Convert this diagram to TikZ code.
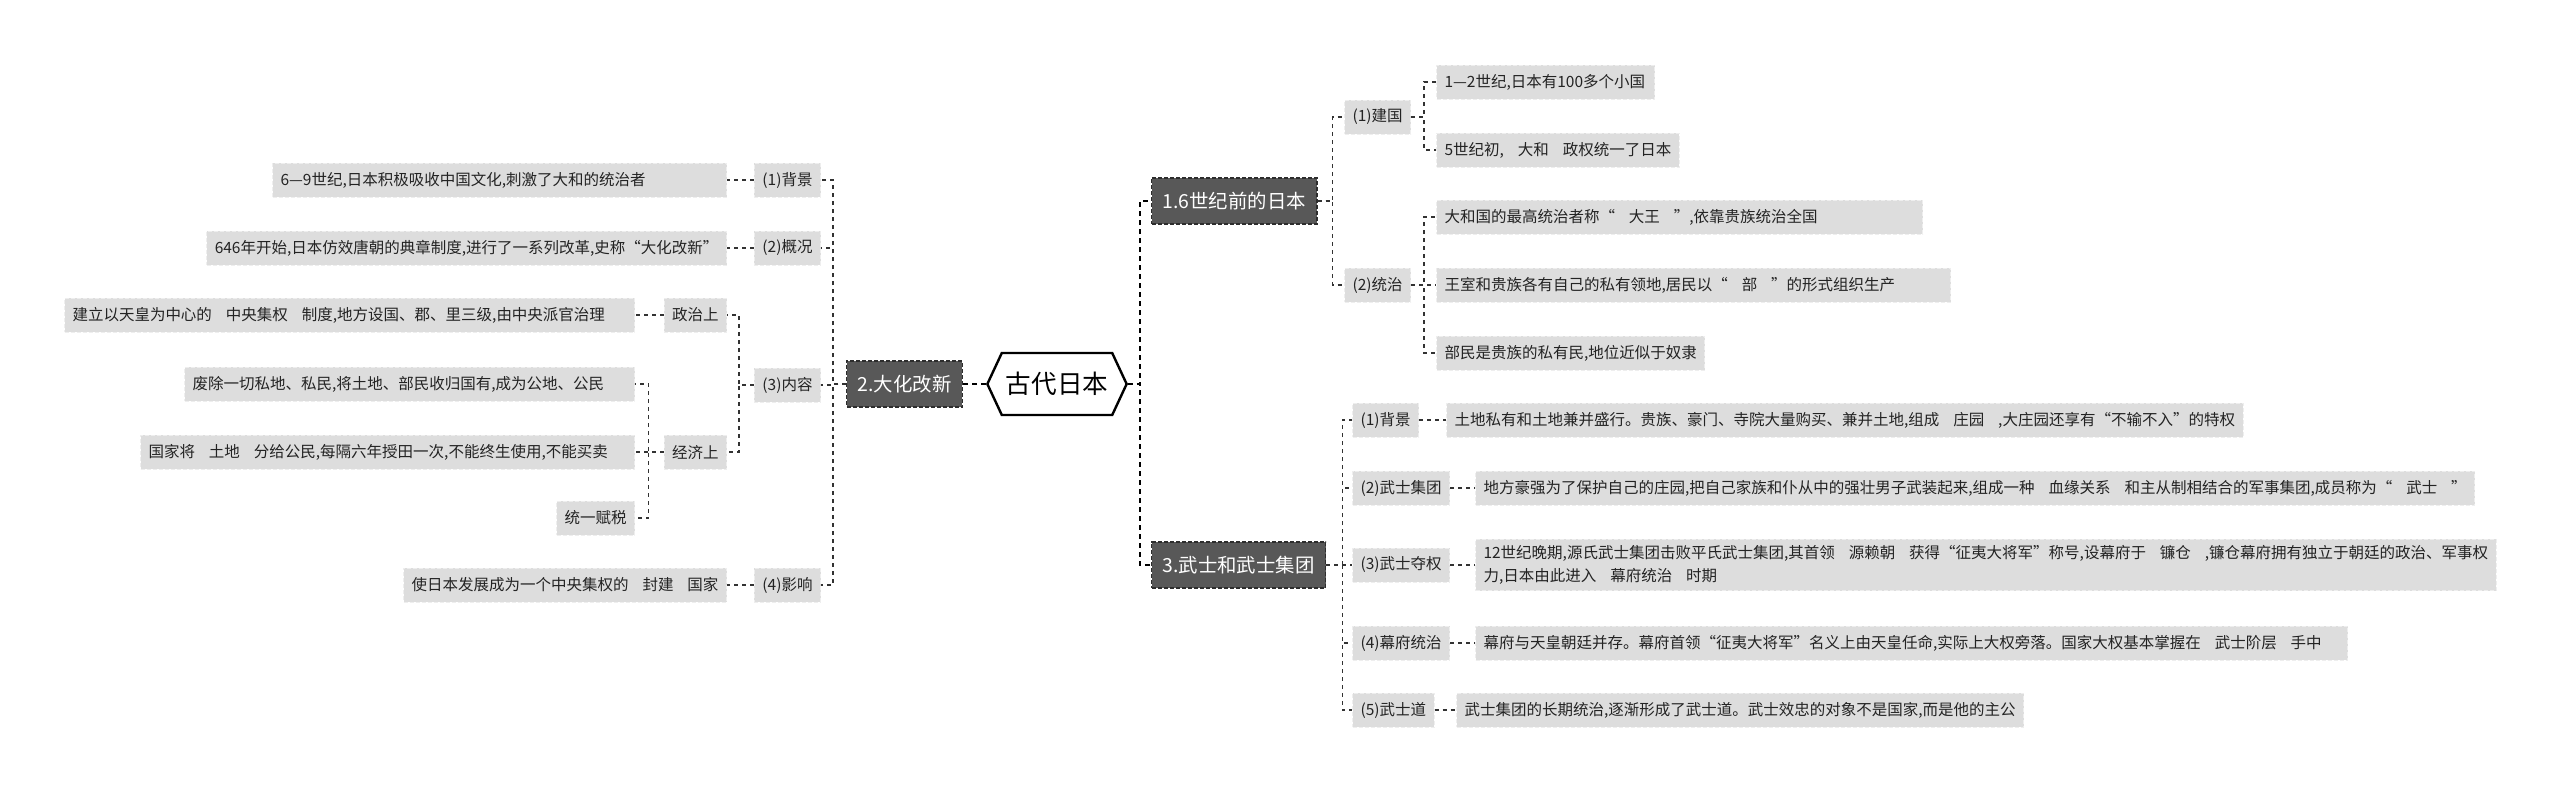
\documentclass[tikz,border=0pt]{standalone}
\usepackage{fontspec}
\usepackage{tikz}
\usetikzlibrary{positioning}
\usetikzlibrary{shapes.symbols}
\newfontfamily\cjk{Noto Sans CJK SC}
\definecolor{leafgray}{RGB}{221,221,221}
\definecolor{leafedge}{RGB}{238,238,238}
\definecolor{branchgray}{RGB}{88,88,88}
\definecolor{branchedge}{RGB}{45,45,45}
\definecolor{linegray}{RGB}{50,50,50}
\definecolor{textgray}{RGB}{35,35,35}
\newcommand{\gap}{\hspace{0.9em}}

\begin{document}
\begin{tikzpicture}[x=0.5pt,y=-0.5pt]
		  \tikzset{
			leaf/.style={rectangle,fill=leafgray,draw=leafedge,dash pattern=on 2pt off 1pt,line width=0.5pt,
			  text=textgray,font=\cjk\fontsize{7.75}{11.5}\selectfont,minimum height=17pt,inner xsep=4pt,inner ysep=3pt},
			padded/.style={text width=#1,align=left},
			branch/.style={rectangle,fill=branchgray,draw=branchedge,dash pattern=on 2pt off 1pt,line width=0.6pt,
			  text=white,font=\cjk\fontsize{9.7}{12}\selectfont,minimum height=23pt,inner xsep=5.5pt},
			rootnode/.style={signal,signal to=west and east,signal pointer angle=130,draw=black,fill=white,
			  line width=1.2pt,font=\cjk\fontsize{12.8}{15}\selectfont,minimum width=66pt,minimum height=31pt,inner xsep=2pt},
			conn/.style={draw=linegray,line width=0.65pt,dash pattern=on 2pt off 2pt},
			rootconn/.style={draw=black,line width=1pt,dash pattern=on 2.5pt off 2pt},
		  }
		  \useasboundingbox (0,0) rectangle (2560,793);
		  %ROOT
		  \node[rootnode] (root) at (1057,384) {古代日本};
		  %BRANCH 2
		  \node[branch,anchor=east] (dh) at (963,384) {2.大化改新};
		  \node[leaf,anchor=east] (dhbj) at (821,180) {(1)背景};
		  \node[leaf,anchor=east] (dhgk) at (821,248) {(2)概况};
		  \node[leaf,anchor=east] (dhnr) at (821,385) {(3)内容};
		  \node[leaf,anchor=east] (dhyx) at (821,585) {(4)影响};
		  \node[leaf,padded=219pt,anchor=east] (dhbjt) at (727,180) {6—9世纪,日本积极吸收中国文化,刺激了大和的统治者};
		  \node[leaf,anchor=east] (dhgkt) at (727,248) {646年开始,日本仿效唐朝的典章制度,进行了一系列改革,史称“大化改新”};
		  \node[leaf,anchor=east] (zz) at (727,315) {政治上};
		  \node[leaf,anchor=east] (jj) at (727,452) {经济上};
		  \node[leaf,padded=277pt,anchor=east] (zzt) at (635,315) {建立以天皇为中心的\gap 中央集权\gap 制度,地方设国、郡、里三级,由中央派官治理};
		  \node[leaf,padded=217pt,anchor=east] (jj1) at (635,384) {废除一切私地、私民,将土地、部民收归国有,成为公地、公民};
		  \node[leaf,padded=239pt,anchor=east] (jj2) at (635,452) {国家将\gap 土地\gap 分给公民,每隔六年授田一次,不能终生使用,不能买卖};
		  \node[leaf,anchor=east] (jj3) at (635,518) {统一赋税};
		  \node[leaf,anchor=east] (dhyxt) at (727,585) {使日本发展成为一个中央集权的\gap 封建\gap 国家};
		  %BRANCH 1
		  \node[branch,anchor=west] (b1) at (1151,201) {1.6世纪前的日本};
		  \node[leaf,anchor=west] (jg) at (1344,117) {(1)建国};
		  \node[leaf,anchor=west] (tz) at (1344,285) {(2)统治};
		  \node[leaf,padded=101pt,anchor=west] (jg1) at (1436,82) {1—2世纪,日本有100多个小国};
		  \node[leaf,anchor=west] (jg2) at (1436,150) {5世纪初,\gap 大和\gap 政权统一了日本};
		  \node[leaf,padded=235pt,anchor=west] (tz1) at (1436,217) {大和国的最高统治者称“\gap 大王\gap ”,依靠贵族统治全国};
		  \node[leaf,padded=249pt,anchor=west] (tz2) at (1436,285) {王室和贵族各有自己的私有领地,居民以“\gap 部\gap ”的形式组织生产};
		  \node[leaf,anchor=west] (tz3) at (1436,353) {部民是贵族的私有民,地位近似于奴隶};
		  %BRANCH 3
		  \node[branch,anchor=west] (b3) at (1151,565) {3.武士和武士集团};
		  \node[leaf,anchor=west] (sbj) at (1352,420) {(1)背景};
		  \node[leaf,anchor=west] (sjt) at (1352,488) {(2)武士集团};
		  \node[leaf,anchor=west] (sdq) at (1352,565) {(3)武士夺权};
		  \node[leaf,anchor=west] (smf) at (1352,643) {(4)幕府统治};
		  \node[leaf,anchor=west] (swd) at (1352,710) {(5)武士道};
		  \node[leaf,anchor=west] (sbjt) at (1446,420) {土地私有和土地兼并盛行。贵族、豪门、寺院大量购买、兼并土地,组成\gap 庄园\gap ,大庄园还享有“不输不入”的特权};
		  \node[leaf,anchor=west] (sjtt) at (1475,488) {地方豪强为了保护自己的庄园,把自己家族和仆从中的强壮男子武装起来,组成一种\gap 血缘关系\gap 和主从制相结合的军事集团,成员称为“\gap 武士\gap ”};
		  \node[leaf,anchor=west,align=left] (sdqt) at (1475,565) {12世纪晚期,源氏武士集团击败平氏武士集团,其首领\gap 源赖朝\gap 获得“征夷大将军”称号,设幕府于\gap 镰仓\gap ,镰仓幕府拥有独立于朝廷的政治、军事权\\力,日本由此进入\gap 幕府统治\gap 时期};
		  \node[leaf,padded=428pt,anchor=west] (smft) at (1475,643) {幕府与天皇朝廷并存。幕府首领“征夷大将军”名义上由天皇任命,实际上大权旁落。国家大权基本掌握在\gap 武士阶层\gap 手中};
		  \node[leaf,anchor=west] (swdt) at (1456,710) {武士集团的长期统治,逐渐形成了武士道。武士效忠的对象不是国家,而是他的主公};
		  %ROOT LINKS
		  \draw[rootconn] (root.west) -- (dh.east);
		  \foreach \c in {b1,b3}{
			\draw[rootconn] (root.east) -- ++(12,0) |- (\c.west);
		  }
		  %LINKS 2
		  \foreach \c in {dhbj,dhgk,dhnr,dhyx}{
			\draw[conn] (dh.west) -- ++(-13,0) |- (\c.east);
		  }
		  \draw[conn] (dhbj.west) -- (dhbjt.east);
		  \draw[conn] (dhgk.west) -- (dhgkt.east);
		  \draw[conn] (dhyx.west) -- (dhyxt.east);
		  \foreach \c in {zz,jj}{
			\draw[conn] (dhnr.west) -- ++(-15,0) |- (\c.east);
		  }
		  \draw[conn] (zz.west) -- (zzt.east);
		  \foreach \c in {jj1,jj2,jj3}{
			\draw[conn] (jj.west) -- ++(-15,0) |- (\c.east);
		  }
		  %LINKS 1
		  \foreach \c in {jg,tz}{
			\draw[conn] (b1.east) -- ++(15,0) |- (\c.west);
		  }
		  \foreach \c in {jg1,jg2}{
			\draw[conn] (jg.east) -- ++(13,0) |- (\c.west);
		  }
		  \foreach \c in {tz1,tz2,tz3}{
			\draw[conn] (tz.east) -- ++(13,0) |- (\c.west);
		  }
		  %LINKS 3
		  \foreach \c in {sbj,sjt,sdq,smf,swd}{
			\draw[conn] (b3.east) -- ++(16,0) |- (\c.west);
		  }
		  \draw[conn] (sbj.east) -- (sbjt.west);
		  \draw[conn] (sjt.east) -- (sjtt.west);
		  \draw[conn] (sdq.east) -- (sdqt.west);
		  \draw[conn] (smf.east) -- (smft.west);
		  \draw[conn] (swd.east) -- (swdt.west);
\end{tikzpicture}
\end{document}
